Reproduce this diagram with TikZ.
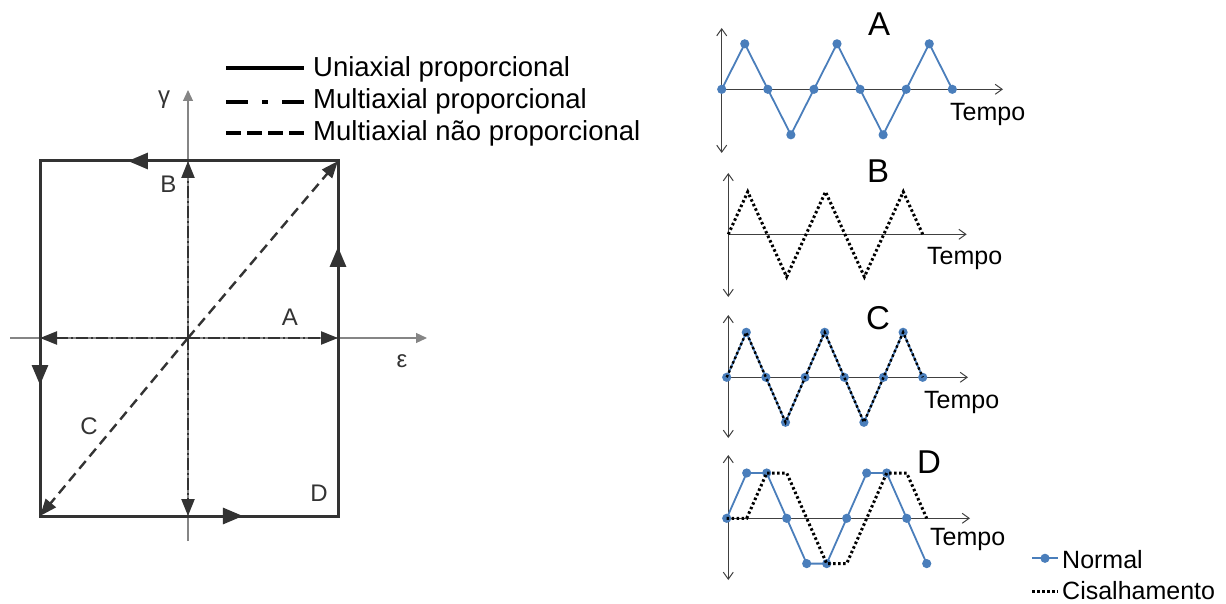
\documentclass[tikz,border=0pt]{standalone}
\usepackage{fontspec}
\setmainfont{Liberation Sans}
\usetikzlibrary{arrows.meta,decorations.markings,calc}
\definecolor{Ink}{HTML}{333333}
\definecolor{Eixo}{HTML}{858585}
\definecolor{Graph}{HTML}{404040}
\definecolor{Normal}{HTML}{4A7EBB}
\tikzset{
  ciclo/.style={draw=Ink,line width=3pt},
  eixo/.style={draw=Eixo,line width=1.2pt,-{Triangle[length=11pt,width=10pt]}},
  meio/.style={postaction={decorate},decoration={markings,mark=at position #1 with {\arrow{Triangle[length=20pt,width=16pt]}}}},
  multi/.style={draw=Ink,line width=2.4pt,dash pattern=on 12pt off 3pt on 2pt off 3pt,-{Triangle[length=17pt,width=13pt]}},
  naoprop/.style={draw=Ink,line width=2.4pt,dash pattern=on 10pt off 6pt,-{Triangle[length=17pt,width=13pt]}},
  rotulo/.style={font=\fontsize{24}{28}\selectfont,text=Ink,inner sep=0pt},
  legenda/.style={font=\fontsize{27.5}{33}\selectfont,inner sep=0pt,anchor=base west},
  grafico/.style={draw=Graph,line width=1pt},
  tempo/.style={font=\fontsize{25}{30}\selectfont,inner sep=0pt,anchor=base west},
  titulo/.style={font=\fontsize{33}{40}\selectfont,inner sep=0pt,anchor=base},
  normal/.style={draw=Normal,line width=1.8pt,line join=round},
  cis/.style={draw=black,line width=3pt,dash pattern=on 2.5pt off 2.5pt},
  barb/.style={{Straight Barb[length=7pt,width=10pt]}-{Straight Barb[length=7pt,width=10pt]}}
}

\begin{document}
\begin{tikzpicture}[x=1pt,y=-1pt]
  \useasboundingbox (0,0) rectangle (1226,604);
  \coordinate (o) at (188,338);
  \coordinate (tl) at (40,161);
  \coordinate (tr) at (338,161);
  \coordinate (bl) at (40,516);
  \coordinate (br) at (338,516);
  \coordinate (ytop) at (188,90);
  \coordinate (ybot) at (188,541);
  \coordinate (xl) at (10,338);
  \coordinate (xr) at (427,338);
  \draw[eixo] (ybot) -- (ytop);
  \draw[eixo] (xl) -- (xr);
  \draw[ciclo] (tl) rectangle (br);
  \draw[ciclo,meio=0.705] (tr) -- (tl);
  \draw[ciclo,meio=0.631] (tl) -- (bl);
  \draw[ciclo,meio=0.681] (bl) -- (br);
  \draw[ciclo,meio=0.758] (br) -- (tr);
  \draw[multi] (o) -- (o -| tl);
  \draw[multi] (o) -- (o -| tr);
  \draw[multi] (o) -- (o |- tl);
  \draw[multi] (o) -- (o |- bl);
  \draw[naoprop] (o) -- (tr);
  \draw[naoprop] (o) -- (bl);
  \node[rotulo] (gama) at (164,100) {γ};
  \node[rotulo,anchor=base] (eps) at (402,367) {ε};
  \node[rotulo,anchor=base] (la) at (290,325) {A};
  \node[rotulo,anchor=base] (lb) at (168.5,193) {B};
  \node[rotulo,anchor=base] (lc) at (89,434) {C};
  \node[rotulo,anchor=base] (ld) at (319,501.5) {D};

  \coordinate (l1a) at (226,68);  \coordinate (l1b) at (304,68);
  \coordinate (l2a) at (226,102); \coordinate (l2b) at (304,102);
  \coordinate (l3a) at (226,133); \coordinate (l3b) at (304,133);
  \draw[line width=4pt] (l1a) -- (l1b);
  \draw[line width=4pt,dash pattern=on 22pt off 14pt on 6pt off 14pt] (l2a) -- (l2b);
  \draw[line width=3.5pt,dash pattern=on 15pt off 6pt] (l3a) -- (l3b);
  \node[legenda] (uni) at (313,77) {Uniaxial proporcional};
  \node[legenda] (mp) at (313,109) {Multiaxial proporcional};
  \node[legenda] (mnp) at (313,141) {Multiaxial não proporcional};

  \draw[grafico,barb] (721.7,28) -- (721.7,153);
  \draw[grafico,-{Straight Barb[length=7pt,width=10pt]}] (721.7,89.3) -- (1003,89.3);
  \draw[normal] (721.7,89.3) foreach \v [count=\i] in {1,0,-1,0,1,0,-1,0,1,0} { -- ({721.7+23.06*\i},{89.3-45.5*\v}) };
  \foreach \v [count=\i from 0] in {0,1,0,-1,0,1,0,-1,0,1,0}
    \fill[Normal] ({721.7+23.06*\i},{89.3-45.5*\v}) circle (4.6);
  \node[titulo] (ta) at (879,36) {A};
  \node[tempo] (tpa) at (950,121) {Tempo};

  \draw[grafico,barb] (728.3,173) -- (728.3,297);
  \draw[grafico,-{Straight Barb[length=7pt,width=10pt]}] (728.3,234.3) -- (966.7,234.3);
  \draw[cis] (728.3,234.3) foreach \v [count=\i] in {1,0,-1,0,1,0,-1,0,1,0} { -- ({728.3+19.44*\i},{234.3-42.5*\v}) };
  \node[titulo] (tb) at (878,183) {B};
  \node[tempo] (tpb) at (927,265) {Tempo};

  \draw[grafico,barb] (728.3,315) -- (728.3,438);
  \draw[grafico,-{Straight Barb[length=7pt,width=10pt]}] (728.3,377.3) -- (968,377.3);
  \draw[normal] (726.7,377.3) foreach \v [count=\i] in {1,0,-1,0,1,0,-1,0,1,0} { -- ({726.7+19.6*\i},{377.3-45*\v}) };
  \foreach \v [count=\i from 0] in {0,1,0,-1,0,1,0,-1,0,1,0}
    \fill[Normal] ({726.7+19.6*\i},{377.3-45*\v}) circle (4.6);
  \draw[cis,line width=2.4pt] (726.7,377.3) foreach \v [count=\i] in {1,0,-1,0,1,0,-1,0,1,0} { -- ({726.7+19.6*\i},{377.3-45*\v}) };
  \node[titulo] (tc) at (878,329) {C};
  \node[tempo] (tpc) at (924,408) {Tempo};

  \draw[grafico,barb] (728.3,455) -- (728.3,580);
  \draw[grafico,-{Straight Barb[length=7pt,width=10pt]}] (728.3,518.3) -- (970,518.3);
  \draw[normal] (726.7,518.3) foreach \v [count=\i] in {1,1,0,-1,-1,0,1,1,0,-1} { -- ({726.7+20*\i},{518.3-45.3*\v}) };
  \foreach \v [count=\i from 0] in {0,1,1,0,-1,-1,0,1,1,0,-1}
    \fill[Normal] ({726.7+20*\i},{518.3-45.3*\v}) circle (4.6);
  \draw[cis] (726.7,518.3) foreach \v [count=\i] in {0,1,1,0,-1,-1,0,1,1,0} { -- ({726.7+20*\i},{518.3-45.3*\v}) };
  \node[titulo] (td) at (929,473) {D};
  \node[tempo] (tpd) at (930,545) {Tempo};

  \coordinate (n1) at (1032,558.3); \coordinate (n2) at (1058,558.3);
  \coordinate (c1) at (1032,591.7); \coordinate (c2) at (1058,591.7);
  \draw[normal] (n1) -- (n2);
  \fill[Normal] ($(n1)!0.5!(n2)$) circle (4.6);
  \draw[cis] (c1) -- (c2);
  \node[tempo] (leg1) at (1062,568.3) {Normal};
  \node[tempo] (leg2) at (1062,599) {Cisalhamento};
\end{tikzpicture}
\end{document}
